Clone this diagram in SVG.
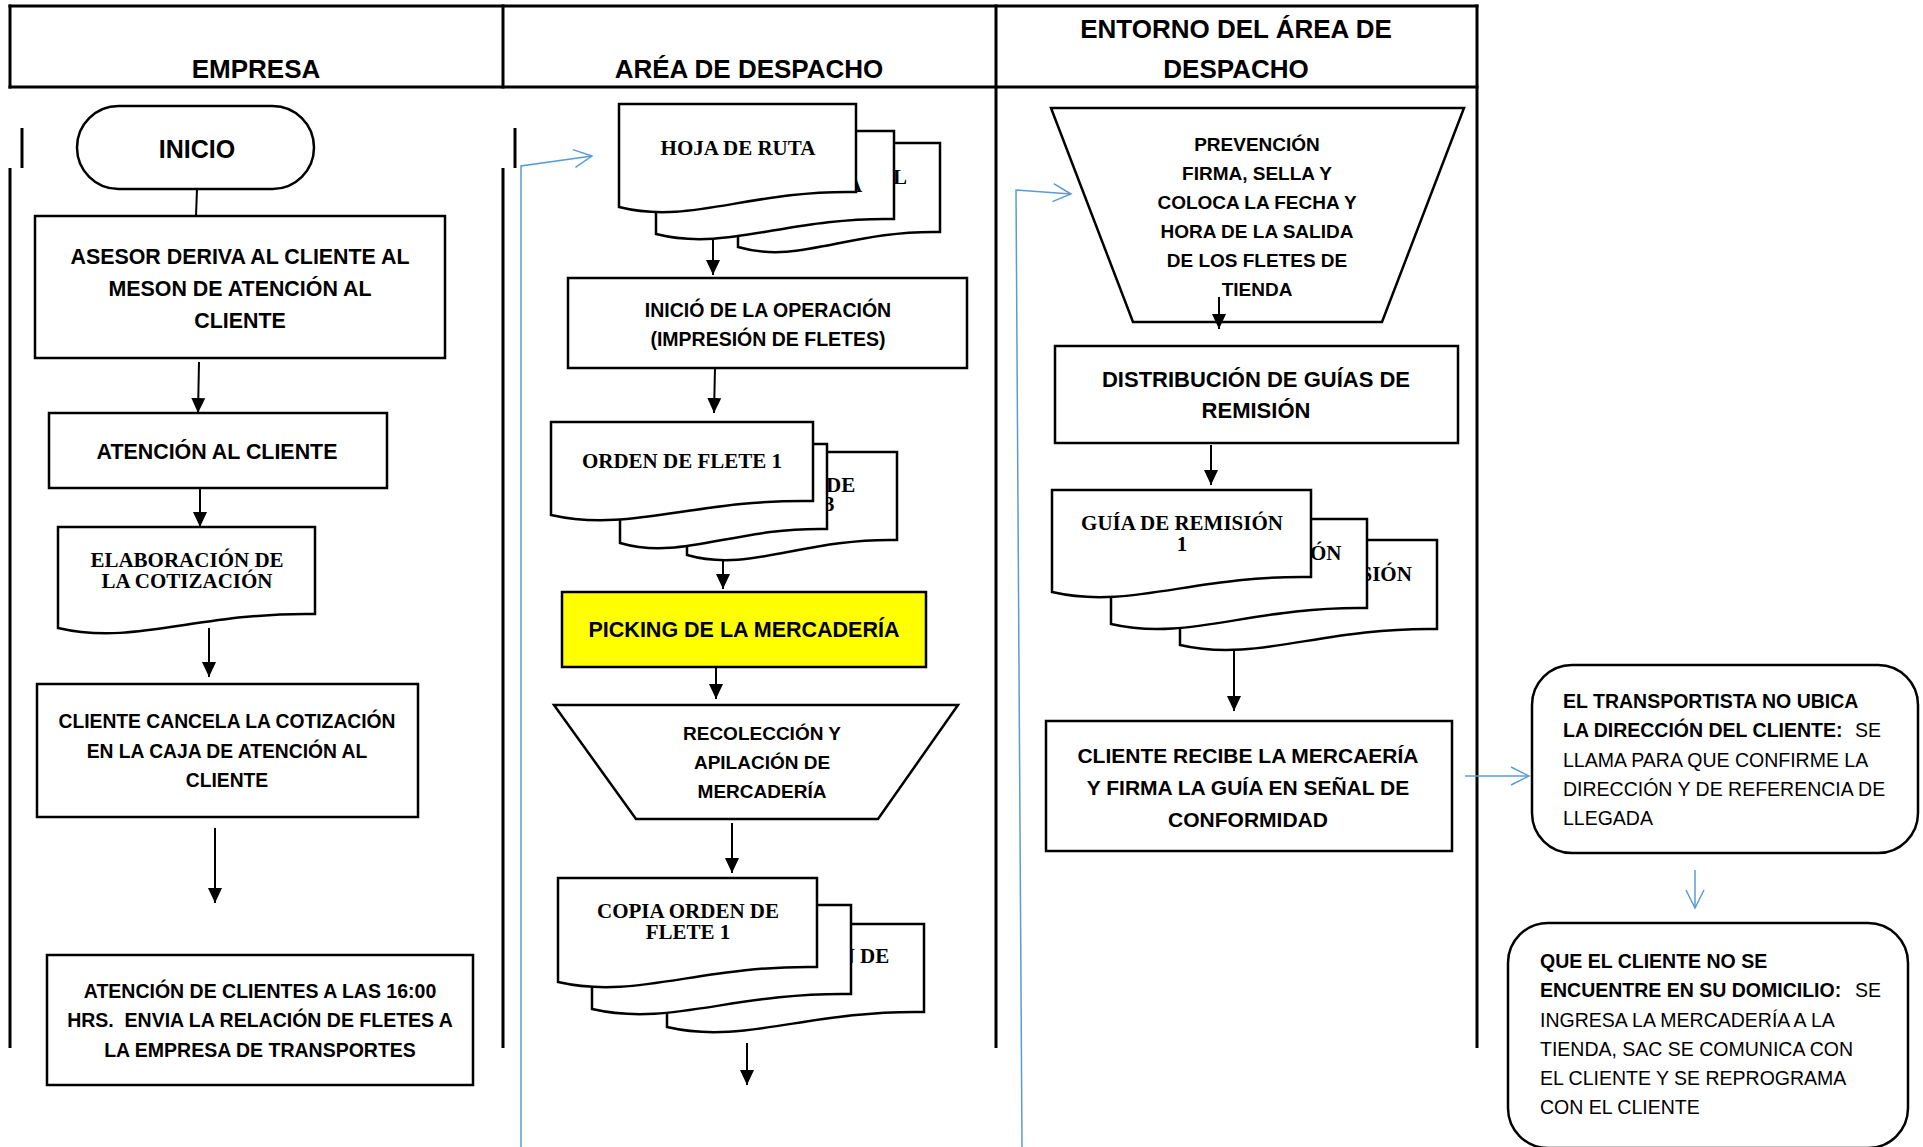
<svg xmlns="http://www.w3.org/2000/svg" width="1923" height="1147" viewBox="0 0 1923 1147">
<style>
.box{fill:#fff;stroke:#000;stroke-width:2.5}
.yel{fill:#FFFF00;stroke:#000;stroke-width:2.5}
.t{font-family:"Liberation Sans",Arial,sans-serif;font-weight:bold;text-anchor:middle;fill:#000}
.h{font-family:"Liberation Sans",Arial,sans-serif;font-weight:bold;text-anchor:middle;font-size:26px;fill:#000}
.s{font-family:"Liberation Serif","Times New Roman",serif;font-weight:bold;font-size:21px;text-anchor:middle;fill:#000}
.sf{font-family:"Liberation Serif","Times New Roman",serif;font-weight:bold;font-size:21px;text-anchor:start;fill:#000}
.n{font-family:"Liberation Sans",Arial,sans-serif;font-size:19.5px;fill:#000}
.nb{font-weight:bold}
.arr{stroke:#000;stroke-width:2;fill:none;marker-end:url(#ah)}
.ln{stroke:#000;stroke-width:2;fill:none}
.blue{stroke:#5B9BD5;stroke-width:1.5;fill:none;marker-end:url(#bh)}
.lane{stroke:#000;stroke-width:3;fill:none}
</style>
<defs>
<marker id="ah" markerUnits="userSpaceOnUse" markerWidth="16" markerHeight="16" refX="15" refY="7" orient="auto">
<path d="M0,0 L15,7 L0,14 Z" fill="#000"/>
</marker>
<marker id="bh" markerUnits="userSpaceOnUse" markerWidth="22" markerHeight="22" refX="19" refY="10" orient="auto">
<path d="M1,1 L19,10 L1,19" fill="none" stroke="#5B9BD5" stroke-width="1.5"/>
</marker>
</defs>
<rect width="1923" height="1147" fill="#fff"/>

<g id="lanes">
<line class="lane" x1="8.5" y1="6" x2="1478.5" y2="6"/>
<line class="lane" x1="8.5" y1="87" x2="1478.5" y2="87" stroke-width="3.5"/>
<line class="lane" x1="10" y1="4.5" x2="10" y2="88.5"/>
<line class="lane" x1="503" y1="4.5" x2="503" y2="88.5"/>
<line class="lane" x1="996" y1="4.5" x2="996" y2="1048"/>
<line class="lane" x1="1477" y1="4.5" x2="1477" y2="1048"/>
<line class="lane" x1="22" y1="128" x2="22" y2="168"/>
<line class="lane" x1="10" y1="168" x2="10" y2="1048"/>
<line class="lane" x1="515" y1="128" x2="515" y2="168"/>
<line class="lane" x1="503" y1="168" x2="503" y2="1048"/>
<text class="h" x="256" y="78">EMPRESA</text>
<text class="h" x="749" y="78">ARÉA DE DESPACHO</text>
<text class="h" x="1236" y="38">ENTORNO DEL ÁREA DE</text>
<text class="h" x="1236" y="78">DESPACHO</text>
</g>

<g id="connectors">
<line class="ln" x1="197" y1="189" x2="196" y2="216"/>
<line class="arr" x1="199" y1="362" x2="198" y2="413"/>
<line class="arr" x1="200" y1="488" x2="200" y2="527"/>
<line class="arr" x1="209" y1="628" x2="209" y2="677"/>
<line class="arr" x1="215" y1="828" x2="215" y2="903"/>
<line class="arr" x1="713" y1="217" x2="713" y2="275"/>
<line class="arr" x1="715" y1="368" x2="714" y2="413"/>
<line class="arr" x1="723" y1="558" x2="723" y2="589"/>
<line class="arr" x1="716" y1="667" x2="716" y2="699"/>
<line class="arr" x1="732" y1="823" x2="732" y2="873"/>
<line class="arr" x1="747" y1="1043" x2="747" y2="1085"/>
<line class="arr" x1="1211" y1="445" x2="1211" y2="485"/>
<line class="arr" x1="1234" y1="648" x2="1234" y2="711"/>
<polyline class="blue" points="521,1147 521,166 592,156"/>
<polyline class="blue" points="1022,1147 1016,190 1071,194"/>
<line class="blue" x1="1465" y1="776" x2="1529" y2="776"/>
<line class="blue" x1="1695" y1="870" x2="1695" y2="908"/>
</g>

<g id="inicio">
<rect class="box" x="77" y="106" width="237" height="83" rx="41.5"/>
<text class="t" x="197" y="158" font-size="25">INICIO</text>
</g>

<g id="asesor">
<rect class="box" x="35" y="216" width="410" height="142"/>
<text class="t" font-size="21.4" x="240" y="264">ASESOR DERIVA AL CLIENTE AL</text>
<text class="t" font-size="21.4" x="240" y="296">MESON DE ATENCIÓN AL</text>
<text class="t" font-size="21.4" x="240" y="328">CLIENTE</text>
</g>

<g id="atencion">
<rect class="box" x="49" y="413" width="338" height="75"/>
<text class="t" font-size="21.4" x="217" y="459">ATENCIÓN AL CLIENTE</text>
</g>

<g id="elaboracion">
<path class="box" d="M58,527 H315 V614 C199,612 135,646 58,628 Z"/>
<text class="s" x="187" y="567">ELABORACIÓN DE</text>
<text class="s" x="187" y="588">LA COTIZACIÓN</text>
</g>

<g id="cancela">
<rect class="box" x="37" y="684" width="381" height="133"/>
<text class="t" font-size="19.3" x="227" y="728">CLIENTE CANCELA LA COTIZACIÓN</text>
<text class="t" font-size="19.3" x="227" y="758">EN LA CAJA DE ATENCIÓN AL</text>
<text class="t" font-size="19.3" x="227" y="787">CLIENTE</text>
</g>

<g id="atencion16">
<rect class="box" x="47" y="955" width="426" height="130"/>
<text class="t" font-size="19.5" x="260" y="998">ATENCIÓN DE CLIENTES A LAS 16:00</text>
<text class="t" font-size="19.5" x="260" y="1027" xml:space="preserve">HRS.  ENVIA LA RELACIÓN DE FLETES A</text>
<text class="t" font-size="19.5" x="260" y="1057">LA EMPRESA DE TRANSPORTES</text>
</g>

<g id="hoja-ruta">
<path class="box" d="M738,143 H940 V232 C849,230 799,265 738,247 Z"/>
<text class="sf" x="893" y="184">L</text>
<path class="box" d="M656,131 H894 V219 C787,217 727,252 656,234 Z"/>
<text class="sf" x="847" y="192">A</text>
<path class="box" d="M619,104 H856 V192 C749,190 690,225 619,207 Z"/>
<text class="s" x="738" y="155">HOJA DE RUTA</text>
</g>

<g id="inicio-operacion">
<rect class="box" x="568" y="278" width="399" height="90"/>
<text class="t" font-size="19.5" x="768" y="317">INICIÓ DE LA OPERACIÓN</text>
<text class="t" font-size="19.5" x="768" y="346">(IMPRESIÓN DE FLETES)</text>
</g>

<g id="orden-flete">
<path class="box" d="M687,452 H897 V540 C803,538 750,573 687,555 Z"/>
<text class="sf"><tspan x="826" y="492">DE</tspan><tspan x="824" y="511">3</tspan></text>
<path class="box" d="M620,444 H827 V529 C734,527 682,561 620,543 Z"/>
<path class="box" d="M551,422 H813 V501 C695,499 630,533 551,515 Z"/>
<text class="s" x="682" y="468">ORDEN DE FLETE 1</text>
</g>

<g id="picking">
<rect class="yel" x="562" y="592" width="364" height="75"/>
<text class="t" font-size="21.5" x="744" y="637">PICKING DE LA MERCADERÍA</text>
</g>

<g id="recoleccion">
<path class="box" d="M554,705 H958 L878,819 H636 Z"/>
<text class="t" font-size="19" x="762" y="740">RECOLECCIÓN Y</text>
<text class="t" font-size="19" x="762" y="769">APILACIÓN DE</text>
<text class="t" font-size="19" x="762" y="798">MERCADERÍA</text>
</g>

<g id="copia-orden">
<path class="box" d="M667,924 H924 V1012 C808,1010 744,1045 667,1027 Z"/>
<text class="sf" x="839.6" y="963">N DE</text>
<path class="box" d="M592,905 H851 V994 C734,992 670,1027 592,1009 Z"/>
<path class="box" d="M558,878 H817 V967 C700,965 636,1000 558,982 Z"/>
<text class="s" x="688" y="918">COPIA ORDEN DE</text>
<text class="s" x="688" y="939">FLETE 1</text>
</g>

<g id="prevencion">
<path class="box" d="M1051,108 H1464 L1382,322 H1133 Z"/>
<text class="t" font-size="19" x="1257" y="151">PREVENCIÓN</text>
<text class="t" font-size="19" x="1257" y="180">FIRMA, SELLA Y</text>
<text class="t" font-size="19" x="1257" y="209">COLOCA LA FECHA Y</text>
<text class="t" font-size="19" x="1257" y="238">HORA DE LA SALIDA</text>
<text class="t" font-size="19" x="1257" y="267">DE LOS FLETES DE</text>
<text class="t" font-size="19" x="1257" y="296">TIENDA</text>
<line class="arr" x1="1219" y1="297" x2="1219" y2="329"/>
</g>

<g id="distribucion">
<rect class="box" x="1055" y="346" width="403" height="97"/>
<text class="t" font-size="22" x="1256" y="387">DISTRIBUCIÓN DE GUÍAS DE</text>
<text class="t" font-size="22" x="1256" y="418">REMISIÓN</text>
</g>

<g id="guia-remision">
<path class="box" d="M1180,540 H1437 V629 C1321,627 1257,663 1180,645 Z"/>
<text class="sf" x="1360.5" y="581">SIÓN</text>
<path class="box" d="M1111,519 H1367 V608 C1252,606 1188,642 1111,624 Z"/>
<text class="sf" x="1310" y="560">ÓN</text>
<path class="box" d="M1052,490 H1311 V577 C1194,575 1130,610 1052,592 Z"/>
<text class="s" x="1182" y="530">GUÍA DE REMISIÓN</text>
<text class="s" x="1182" y="551">1</text>
</g>

<g id="cliente-recibe">
<rect class="box" x="1046" y="721" width="406" height="130"/>
<text class="t" font-size="21" x="1248" y="763">CLIENTE RECIBE LA MERCAERÍA</text>
<text class="t" font-size="21" x="1248" y="795">Y FIRMA LA GUÍA EN SEÑAL DE</text>
<text class="t" font-size="21" x="1248" y="827">CONFORMIDAD</text>
</g>

<g id="transportista">
<rect class="box" x="1532" y="665" width="386" height="188" rx="40"/>
<text class="n nb" x="1563" y="708">EL TRANSPORTISTA NO UBICA</text>
<text class="n" x="1563" y="737"><tspan class="nb">LA DIRECCIÓN DEL CLIENTE:</tspan><tspan x="1855">SE</tspan></text>
<text class="n" x="1563" y="767">LLAMA PARA QUE CONFIRME LA</text>
<text class="n" x="1563" y="796">DIRECCIÓN Y DE REFERENCIA DE</text>
<text class="n" x="1563" y="825">LLEGADA</text>
</g>

<g id="domicilio">
<rect class="box" x="1508" y="923" width="400" height="225" rx="40"/>
<text class="n nb" x="1540" y="968">QUE EL CLIENTE NO SE</text>
<text class="n" x="1540" y="997"><tspan class="nb">ENCUENTRE EN SU DOMICILIO:</tspan><tspan x="1855">SE</tspan></text>
<text class="n" x="1540" y="1027">INGRESA LA MERCADERÍA A LA</text>
<text class="n" x="1540" y="1056">TIENDA, SAC SE COMUNICA CON</text>
<text class="n" x="1540" y="1085">EL CLIENTE Y SE REPROGRAMA</text>
<text class="n" x="1540" y="1114">CON EL CLIENTE</text>
</g>
</svg>
